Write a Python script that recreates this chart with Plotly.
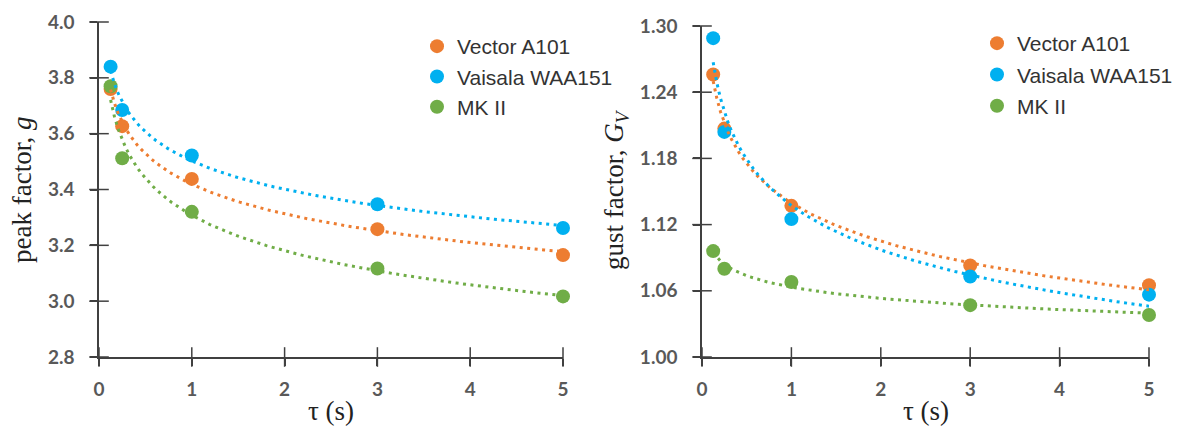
import numpy as np
import plotly.graph_objects as go

# ---- data ----
tau = [0.125, 0.25, 1, 3, 5]
series_names = ["Vector A101", "Vaisala WAA151", "MK II"]
colors = ["#ED7D31", "#00B0F0", "#70AD47"]

peak_vector = [3.76, 3.627, 3.438, 3.258, 3.165]
peak_vaisala = [3.84, 3.685, 3.522, 3.347, 3.262]
peak_mk2 = [3.77, 3.512, 3.32, 3.117, 3.017]

gust_vector = [1.256, 1.207, 1.137, 1.083, 1.065]
gust_vaisala = [1.289, 1.204, 1.125, 1.073, 1.0565]
gust_mk2 = [1.096, 1.080, 1.068, 1.047, 1.038]

x_ticks = [0, 1, 2, 3, 4, 5]
peak_ticks = [2.8, 3.0, 3.2, 3.4, 3.6, 3.8, 4.0]
gust_ticks = [1.00, 1.06, 1.12, 1.18, 1.24, 1.30]

W, H = 1178, 427
AX = "#404040"
TICKLEN = 7
TICKFONT = dict(family="Lato", size=19, color="#595959", weight=700)
TITLEFONT = dict(family="Liberation Serif", size=27, color="#222222")
LEGFONT = dict(family="Liberation Sans", size=21, color="#333333")

# plot-area pixel boxes (left, right, top, bottom)
boxes = [(99, 563, 22, 357), (702, 1149, 26, 357)]


def power_fit(x, y):
    b, ln_a = np.polyfit(np.log(x), np.log(y), 1)
    xs = np.linspace(min(x), max(x), 120)
    return xs, np.exp(ln_a) * xs ** b


fig = go.Figure()

panels = [
    ([peak_vector, peak_vaisala, peak_mk2], "x", "y", "legend", peak_ticks),
    ([gust_vector, gust_vaisala, gust_mk2], "x2", "y2", "legend2", gust_ticks),
]

for vals, xa, ya, lg, yt in panels:
    # crossing tick marks (drawn as short line markers centred on the axis lines)
    fig.add_trace(go.Scatter(
        x=x_ticks, y=[yt[0]] * len(x_ticks), mode="markers", xaxis=xa, yaxis=ya,
        marker=dict(symbol="line-ns", size=2 * TICKLEN, color=AX,
                    line=dict(width=1.5, color=AX)),
        showlegend=False, hoverinfo="skip", cliponaxis=False))
    fig.add_trace(go.Scatter(
        x=[x_ticks[0]] * len(yt), y=yt, mode="markers", xaxis=xa, yaxis=ya,
        marker=dict(symbol="line-ew", size=2 * TICKLEN, color=AX,
                    line=dict(width=1.5, color=AX)),
        showlegend=False, hoverinfo="skip", cliponaxis=False))
    for name, col, v in zip(series_names, colors, vals):
        fig.add_trace(go.Scatter(
            x=tau, y=v, mode="markers", name=name, xaxis=xa, yaxis=ya,
            marker=dict(size=14, color=col), legend=lg, legendgroup=lg + name,
            cliponaxis=False))
    for name, col, v in zip(series_names, colors, vals):
        xs, ys = power_fit(tau, v)
        fig.add_trace(go.Scatter(
            x=xs, y=ys, mode="lines", xaxis=xa, yaxis=ya, showlegend=False,
            line=dict(color=col, width=3, dash="3px,4.5px"), hoverinfo="skip",
            cliponaxis=False))

lx = [boxes[0][0] / W, boxes[0][1] / W]
rx = [boxes[1][0] / W, boxes[1][1] / W]
ly = [(H - boxes[0][3]) / H, (H - boxes[0][2]) / H]
ry = [(H - boxes[1][3]) / H, (H - boxes[1][2]) / H]

common_x = dict(range=[0, 5], tickvals=x_ticks, showline=True, linecolor=AX,
                linewidth=1.5, ticks="outside", ticklen=TICKLEN, tickwidth=1.5,
                tickcolor=AX, tickfont=TICKFONT, showgrid=False, zeroline=False,
                ticklabelstandoff=7, automargin=False)
common_y = dict(showline=True, linecolor=AX, linewidth=1.5, ticks="outside",
                ticklen=TICKLEN, tickwidth=1.5, tickcolor=AX, tickfont=TICKFONT,
                showgrid=False, zeroline=False, ticklabelstandoff=12, automargin=False)

fig.update_layout(
    width=W, height=H, margin=dict(l=0, r=0, t=0, b=0, autoexpand=False),
    paper_bgcolor="white", plot_bgcolor="white",
    xaxis=dict(domain=lx, anchor="y", **common_x),
    yaxis=dict(domain=ly, anchor="x", range=[peak_ticks[0], peak_ticks[-1]],
               tickvals=peak_ticks, tickformat=".1f", **common_y),
    xaxis2=dict(domain=rx, anchor="y2", **common_x),
    yaxis2=dict(domain=ry, anchor="x2", range=[gust_ticks[0], gust_ticks[-1]],
                tickvals=gust_ticks, tickformat=".2f", **common_y),
    legend=dict(x=417 / W, y=(H - 26) / H, xanchor="left", yanchor="top",
                font=LEGFONT, bgcolor="rgba(0,0,0,0)", tracegroupgap=0,
                itemsizing="trace"),
    legend2=dict(x=977 / W, y=(H - 23) / H, xanchor="left", yanchor="top",
                 font=LEGFONT, bgcolor="rgba(0,0,0,0)", tracegroupgap=1,
                 itemsizing="trace"),
    showlegend=True,
)

annots = [
    dict(text="peak factor, <i>g</i>", x=22 / W, y=(H - 190) / H, textangle=-90),
    dict(text="gust factor, <i>G<sub>V</sub></i>", x=616 / W, y=(H - 190) / H, textangle=-90),
    dict(text="τ (s)", x=331 / W, y=(H - 411) / H, textangle=0),
    dict(text="τ (s)", x=926 / W, y=(H - 411) / H, textangle=0),
]
for a in annots:
    fig.add_annotation(xref="paper", yref="paper", showarrow=False,
                       xanchor="center", yanchor="middle", font=TITLEFONT, **a)

fig.write_html("out.html", config={"displayModeBar": False})

# remove the default page margin so the figure sits at the window's top-left
with open("out.html", encoding="utf-8") as f:
    html = f.read()
html = html.replace("<head>", "<head><style>html,body{margin:0;padding:0;overflow:hidden;}</style>", 1)
with open("out.html", "w", encoding="utf-8") as f:
    f.write(html)
